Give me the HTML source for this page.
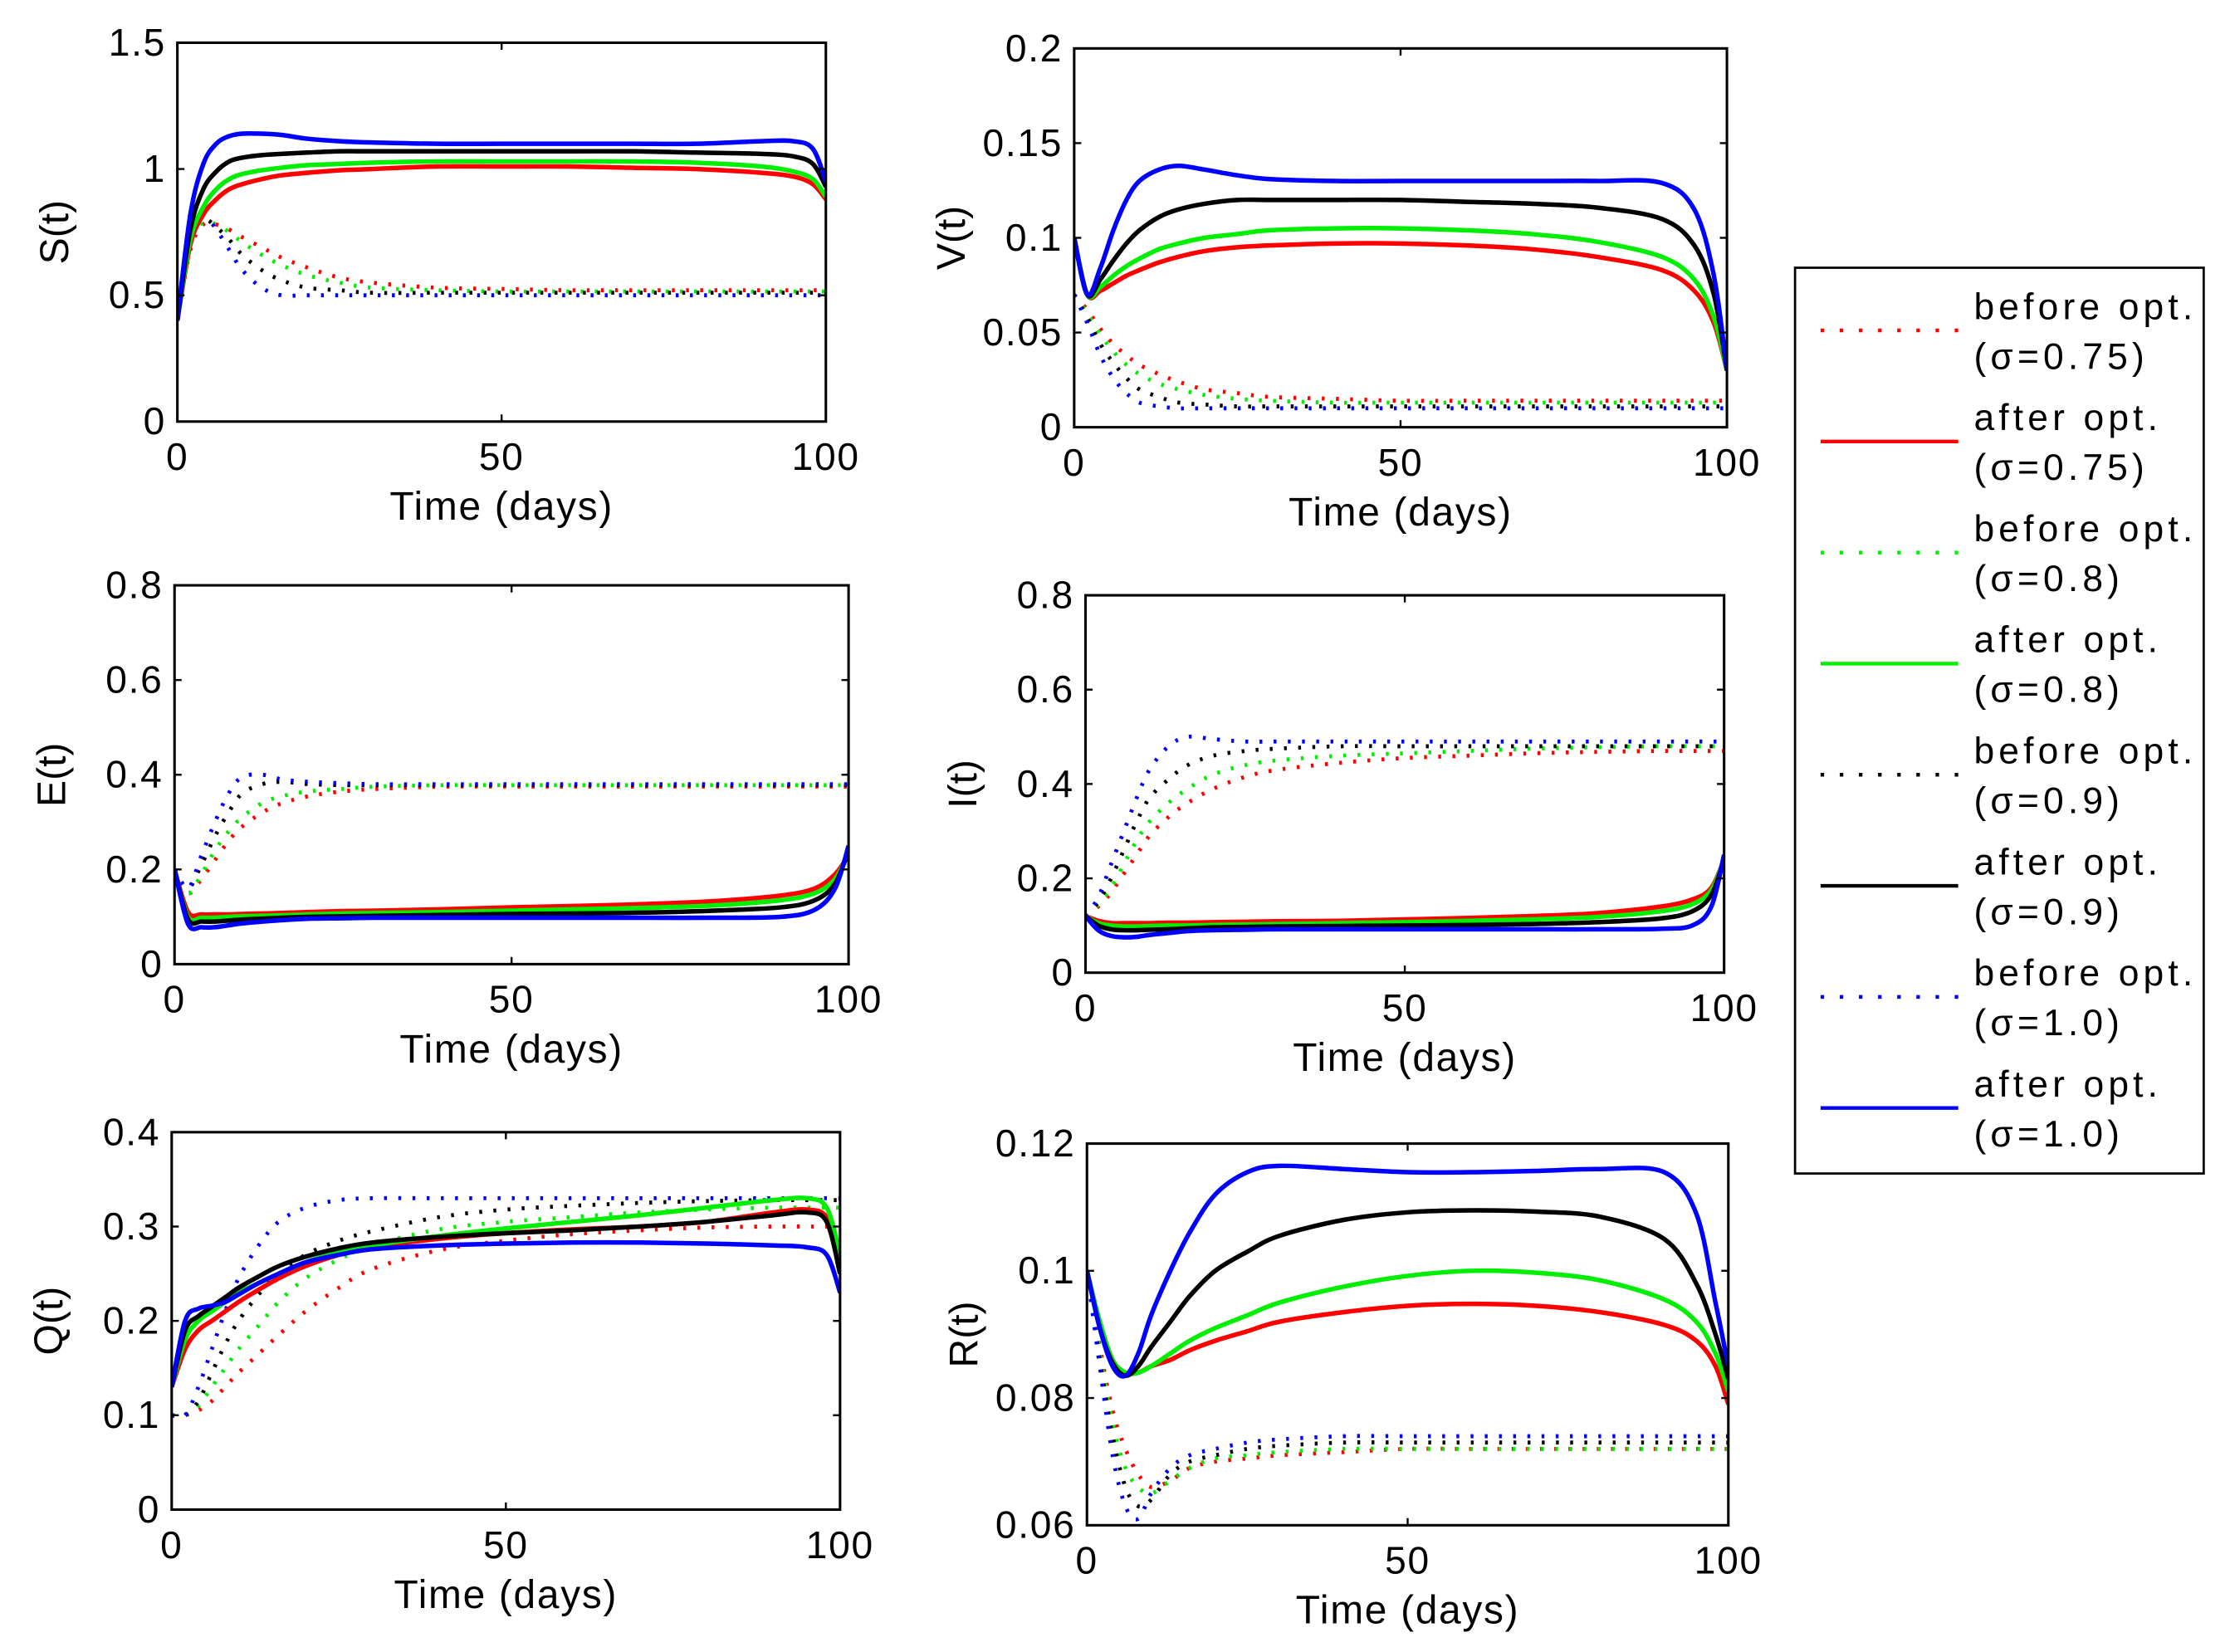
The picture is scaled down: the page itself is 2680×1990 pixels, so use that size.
<!DOCTYPE html>
<html><head><meta charset="utf-8"><style>
html,body{margin:0;padding:0;background:#fff}
svg{display:block}
text{font-family:"Liberation Sans","DejaVu Sans",sans-serif;fill:#000}
</style></head><body>
<svg id="fig" width="2680" height="1990" viewBox="0 0 1568 1160" preserveAspectRatio="none" xmlns="http://www.w3.org/2000/svg"></svg>
<script>
const tVals=[0,2,4,6,8,10,13,16,20,25,30,40,50,60,70,80,90,95,98,100];
const xTicks=[0,50,100];
// S(t)
const S_aR=[0.4,0.7,0.82,0.88,0.92,0.94,0.96,0.975,0.985,0.995,1.0,1.01,1.01,1.01,1.005,1.0,0.985,0.97,0.94,0.88];
const S_aG=[0.4,0.72,0.85,0.92,0.96,0.98,0.995,1.005,1.015,1.02,1.025,1.03,1.03,1.03,1.03,1.025,1.01,0.99,0.96,0.89];
const S_aK=[0.4,0.76,0.92,0.99,1.03,1.045,1.055,1.06,1.065,1.07,1.07,1.07,1.07,1.07,1.07,1.065,1.06,1.05,1.02,0.93];
const S_aB=[0.4,0.82,1.02,1.1,1.13,1.14,1.14,1.135,1.12,1.11,1.105,1.1,1.1,1.1,1.1,1.1,1.11,1.11,1.08,0.95];
const S_bR=[0.4,0.68,0.78,0.78,0.76,0.73,0.69,0.65,0.61,0.57,0.55,0.53,0.525,0.52,0.52,0.52,0.52,0.52,0.52,0.52];
const S_bG=[0.4,0.7,0.79,0.78,0.75,0.71,0.66,0.62,0.58,0.55,0.53,0.52,0.515,0.515,0.515,0.515,0.515,0.515,0.515,0.515];
const S_bK=[0.4,0.73,0.8,0.77,0.72,0.66,0.6,0.56,0.53,0.52,0.51,0.51,0.51,0.51,0.51,0.51,0.51,0.51,0.51,0.51];
const S_bB=[0.4,0.76,0.82,0.76,0.68,0.6,0.53,0.5,0.5,0.5,0.5,0.5,0.5,0.5,0.5,0.5,0.5,0.5,0.5,0.5];
const S_ticks=[0,0.5,1,1.5];
// V(t)
const V_aR=[0.1,0.07,0.072,0.076,0.08,0.083,0.087,0.09,0.093,0.095,0.096,0.097,0.097,0.096,0.094,0.09,0.083,0.072,0.055,0.03];
const V_aG=[0.1,0.07,0.074,0.08,0.085,0.089,0.094,0.097,0.1,0.102,0.104,0.105,0.105,0.104,0.102,0.098,0.09,0.078,0.058,0.03];
const V_aK=[0.1,0.07,0.078,0.088,0.097,0.104,0.111,0.115,0.118,0.12,0.12,0.12,0.12,0.119,0.118,0.116,0.11,0.096,0.07,0.03];
const V_aB=[0.1,0.07,0.084,0.104,0.12,0.13,0.136,0.138,0.136,0.133,0.131,0.13,0.13,0.13,0.13,0.13,0.129,0.115,0.08,0.03];
const V_bR=[0.07,0.062,0.052,0.044,0.038,0.033,0.028,0.024,0.02,0.018,0.016,0.015,0.014,0.014,0.014,0.014,0.014,0.014,0.014,0.014];
const V_bG=[0.07,0.06,0.049,0.04,0.033,0.028,0.023,0.02,0.017,0.015,0.014,0.013,0.013,0.013,0.013,0.013,0.013,0.013,0.013,0.013];
const V_bK=[0.07,0.058,0.044,0.034,0.026,0.02,0.016,0.013,0.012,0.011,0.011,0.011,0.011,0.011,0.011,0.011,0.011,0.011,0.011,0.011];
const V_bB=[0.07,0.055,0.038,0.026,0.018,0.013,0.011,0.01,0.01,0.01,0.01,0.01,0.01,0.01,0.01,0.01,0.01,0.01,0.01,0.01];
const V_ticks=[0,0.05,0.1,0.15,0.2];
// E(t)
const E_aR=[0.2,0.11,0.105,0.105,0.105,0.106,0.107,0.108,0.11,0.112,0.113,0.116,0.12,0.123,0.127,0.133,0.145,0.16,0.19,0.23];
const E_aG=[0.2,0.1,0.098,0.098,0.1,0.101,0.102,0.103,0.105,0.107,0.108,0.11,0.113,0.116,0.119,0.124,0.135,0.15,0.18,0.235];
const E_aK=[0.2,0.095,0.09,0.09,0.092,0.094,0.096,0.098,0.1,0.101,0.102,0.104,0.106,0.107,0.109,0.113,0.12,0.135,0.17,0.24];
const E_aB=[0.2,0.085,0.078,0.078,0.082,0.086,0.09,0.093,0.096,0.097,0.098,0.098,0.098,0.098,0.098,0.098,0.1,0.115,0.16,0.25];
const E_bR=[0.2,0.15,0.18,0.22,0.26,0.29,0.32,0.34,0.355,0.365,0.37,0.375,0.375,0.375,0.375,0.375,0.375,0.375,0.375,0.375];
const E_bG=[0.2,0.15,0.19,0.24,0.28,0.31,0.34,0.355,0.365,0.37,0.375,0.378,0.378,0.378,0.378,0.378,0.378,0.378,0.378,0.378];
const E_bK=[0.2,0.16,0.21,0.27,0.32,0.36,0.38,0.385,0.38,0.378,0.378,0.378,0.378,0.378,0.378,0.378,0.378,0.378,0.378,0.378];
const E_bB=[0.2,0.16,0.23,0.3,0.36,0.395,0.4,0.39,0.385,0.382,0.38,0.38,0.38,0.38,0.38,0.38,0.38,0.38,0.38,0.38];
const E_ticks=[0,0.2,0.4,0.6,0.8];
// I(t)
const I_aR=[0.12,0.11,0.105,0.105,0.105,0.105,0.106,0.106,0.107,0.108,0.109,0.11,0.113,0.116,0.12,0.126,0.14,0.155,0.18,0.24];
const I_aG=[0.12,0.105,0.1,0.098,0.098,0.099,0.1,0.1,0.101,0.102,0.103,0.105,0.107,0.11,0.113,0.118,0.13,0.145,0.175,0.24];
const I_aK=[0.12,0.1,0.092,0.09,0.09,0.091,0.092,0.094,0.096,0.097,0.098,0.099,0.1,0.101,0.103,0.107,0.115,0.13,0.165,0.24];
const I_aB=[0.12,0.09,0.078,0.075,0.076,0.08,0.084,0.088,0.09,0.091,0.092,0.092,0.092,0.092,0.092,0.092,0.093,0.1,0.14,0.25];
const I_bR=[0.12,0.14,0.17,0.21,0.25,0.29,0.33,0.36,0.39,0.415,0.43,0.445,0.455,0.46,0.465,0.468,0.47,0.47,0.47,0.47];
const I_bG=[0.12,0.145,0.18,0.23,0.28,0.32,0.36,0.39,0.42,0.44,0.45,0.46,0.465,0.47,0.475,0.478,0.48,0.48,0.48,0.48];
const I_bK=[0.12,0.15,0.2,0.26,0.32,0.37,0.41,0.44,0.46,0.47,0.475,0.48,0.48,0.48,0.48,0.48,0.48,0.48,0.48,0.48];
const I_bB=[0.12,0.16,0.23,0.3,0.37,0.43,0.48,0.5,0.495,0.49,0.49,0.49,0.49,0.49,0.49,0.49,0.49,0.49,0.49,0.49];
const I_ticks=[0,0.2,0.4,0.6,0.8];
// Q(t)
const Q_aR=[0.13,0.17,0.19,0.2,0.21,0.22,0.233,0.245,0.258,0.27,0.278,0.287,0.293,0.297,0.3,0.305,0.315,0.318,0.31,0.27];
const Q_aG=[0.13,0.18,0.2,0.21,0.22,0.23,0.24,0.25,0.262,0.273,0.28,0.29,0.298,0.305,0.312,0.32,0.328,0.33,0.32,0.27];
const Q_aK=[0.13,0.19,0.205,0.215,0.225,0.235,0.247,0.258,0.268,0.277,0.283,0.289,0.293,0.296,0.3,0.305,0.312,0.315,0.305,0.25];
const Q_aB=[0.13,0.2,0.213,0.216,0.22,0.228,0.24,0.25,0.262,0.27,0.276,0.28,0.282,0.283,0.283,0.282,0.28,0.278,0.27,0.23];
const Q_bR=[0.1,0.1,0.105,0.115,0.13,0.145,0.165,0.185,0.21,0.235,0.255,0.275,0.285,0.292,0.296,0.299,0.3,0.3,0.3,0.3];
const Q_bG=[0.1,0.1,0.11,0.13,0.15,0.17,0.195,0.22,0.245,0.265,0.28,0.297,0.305,0.31,0.315,0.318,0.32,0.32,0.32,0.32];
const Q_bK=[0.1,0.1,0.115,0.145,0.175,0.2,0.228,0.25,0.27,0.285,0.295,0.31,0.318,0.322,0.325,0.327,0.328,0.328,0.328,0.328];
const Q_bB=[0.1,0.1,0.13,0.17,0.21,0.245,0.28,0.305,0.32,0.328,0.33,0.33,0.33,0.33,0.33,0.33,0.33,0.33,0.33,0.33];
const Q_ticks=[0,0.1,0.2,0.3,0.4];
// R(t)
const R_aR=[0.1,0.092,0.086,0.084,0.084,0.085,0.086,0.0875,0.089,0.0905,0.092,0.0935,0.0945,0.0948,0.0945,0.0935,0.0915,0.089,0.085,0.079];
const R_aG=[0.1,0.092,0.086,0.084,0.084,0.085,0.087,0.089,0.091,0.093,0.095,0.0975,0.0992,0.1,0.0997,0.0985,0.0955,0.092,0.087,0.081];
const R_aK=[0.1,0.091,0.0855,0.0835,0.085,0.088,0.092,0.096,0.1,0.103,0.1055,0.108,0.1092,0.1095,0.1093,0.1085,0.105,0.098,0.09,0.083];
const R_aB=[0.1,0.091,0.085,0.0835,0.087,0.093,0.1,0.106,0.112,0.1155,0.1165,0.116,0.1155,0.1155,0.1157,0.116,0.1155,0.109,0.095,0.085];
const R_bR=[0.1,0.088,0.078,0.072,0.068,0.066,0.067,0.069,0.07,0.0705,0.071,0.0715,0.072,0.072,0.072,0.072,0.072,0.072,0.072,0.072];
const R_bG=[0.1,0.087,0.076,0.069,0.066,0.065,0.067,0.069,0.0705,0.071,0.0715,0.072,0.072,0.072,0.072,0.072,0.072,0.072,0.072,0.072];
const R_bK=[0.1,0.086,0.074,0.066,0.063,0.064,0.068,0.07,0.071,0.072,0.0725,0.073,0.073,0.073,0.073,0.073,0.073,0.073,0.073,0.073];
const R_bB=[0.1,0.085,0.071,0.063,0.061,0.065,0.069,0.071,0.072,0.073,0.0735,0.074,0.074,0.074,0.074,0.074,0.074,0.074,0.074,0.074];
const R_ticks=[0.06,0.08,0.1,0.12];
const legendLabels=[["before opt.","(σ=0.75)"],["after opt.","(σ=0.75)"],["before opt.","(σ=0.8)"],["after opt.","(σ=0.8)"],["before opt."," (σ=0.9)"],["after opt.","(σ=0.9)"],["before opt."," (σ=1.0)"],["after opt."," (σ=1.0)"]];

const NS="http://www.w3.org/2000/svg";
const svg=document.getElementById('fig');
function mk(tag,attrs,parent){const e=document.createElementNS(NS,tag);for(const k in attrs)e.setAttribute(k,attrs[k]);(parent||svg).appendChild(e);return e;}
const colors={R:"#ff0000",G:"#00ee00",K:"#000000",B:"#0000ff"};
const panels=[
 {key:"S",label:"S(t)",L:125,R:582,T:30,B:296,ymin:0,ymax:1.5,ticks:S_ticks,d:{aR:S_aR,aG:S_aG,aK:S_aK,aB:S_aB,bR:S_bR,bG:S_bG,bK:S_bK,bB:S_bB}},
 {key:"V",label:"V(t)",L:757,R:1217,T:34,B:300,ymin:0,ymax:0.2,ticks:V_ticks,d:{aR:V_aR,aG:V_aG,aK:V_aK,aB:V_aB,bR:V_bR,bG:V_bG,bK:V_bK,bB:V_bB}},
 {key:"E",label:"E(t)",L:123,R:598,T:411,B:677,ymin:0,ymax:0.8,ticks:E_ticks,d:{aR:E_aR,aG:E_aG,aK:E_aK,aB:E_aB,bR:E_bR,bG:E_bG,bK:E_bK,bB:E_bB}},
 {key:"I",label:"I(t)",L:765,R:1215,T:418,B:683,ymin:0,ymax:0.8,ticks:I_ticks,d:{aR:I_aR,aG:I_aG,aK:I_aK,aB:I_aB,bR:I_bR,bG:I_bG,bK:I_bK,bB:I_bB}},
 {key:"Q",label:"Q(t)",L:121,R:592,T:795,B:1060,ymin:0,ymax:0.4,ticks:Q_ticks,d:{aR:Q_aR,aG:Q_aG,aK:Q_aK,aB:Q_aB,bR:Q_bR,bG:Q_bG,bK:Q_bK,bB:Q_bB}},
 {key:"R",label:"R(t)",L:766,R:1218,T:803,B:1071,ymin:0.06,ymax:0.12,ticks:R_ticks,d:{aR:R_aR,aG:R_aG,aK:R_aK,aB:R_aB,bR:R_bR,bG:R_bG,bK:R_bK,bB:R_bB}}
];
function smoothPath(pts){
  let d="M"+pts[0][0].toFixed(2)+","+pts[0][1].toFixed(2);
  for(let i=0;i<pts.length-1;i++){
    const p0=pts[Math.max(0,i-1)],p1=pts[i],p2=pts[i+1],p3=pts[Math.min(pts.length-1,i+2)];
    const c1x=p1[0]+(p2[0]-p0[0])/6,c1y=p1[1]+(p2[1]-p0[1])/6;
    const c2x=p2[0]-(p3[0]-p1[0])/6,c2y=p2[1]-(p3[1]-p1[1])/6;
    d+=" C"+c1x.toFixed(2)+","+c1y.toFixed(2)+" "+c2x.toFixed(2)+","+c2y.toFixed(2)+" "+p2[0].toFixed(2)+","+p2[1].toFixed(2);
  }
  return d;
}
panels.forEach(p=>{
  const g=mk('g',{});
  
  
  const xs=t=>p.L+(t-0)/(100-0)*(p.R-p.L);
  const ys=v=>p.B-(v-p.ymin)/(p.ymax-p.ymin)*(p.B-p.T);
  const clip=mk('clipPath',{id:'clip'+p.key},g);
  mk('rect',{x:p.L,y:p.T,width:p.R-p.L,height:p.B-p.T},clip);
  ["b","a"].forEach(kind=>{
    ["R","G","K","B"].forEach(c=>{
      const arr=p.d[kind+c];
      const pts=tVals.map((t,i)=>[xs(t),ys(arr[i])]);
      const path=mk('path',{d:smoothPath(pts),fill:"none",stroke:colors[c],"stroke-width":kind==="a"?3.2:2.8,"clip-path":"url(#clip"+p.key+")","stroke-dasharray":kind==="b"?"2,8":"none","stroke-linecap":"butt"},g);
      
      
    });
  });
  const fr=mk('rect',{x:p.L,y:p.T,width:p.R-p.L,height:p.B-p.T,fill:"none",stroke:"#000","stroke-width":1.8},g);
  
  
  p.ticks.forEach(v=>{
    const y=ys(v);
    mk('line',{x1:p.L,x2:p.L+5,y1:y,y2:y,stroke:"#000","stroke-width":1.4},g);
    mk('line',{x1:p.R,x2:p.R-5,y1:y,y2:y,stroke:"#000","stroke-width":1.4},g);
    const tx=mk('text',{x:p.L-8,y:y+9,"text-anchor":"end","font-size":27,"letter-spacing":1},g);
    tx.textContent=String(v);
    
    
  });
  xTicks.forEach(v=>{
    const x=xs(v);
    mk('line',{x1:x,x2:x,y1:p.B,y2:p.B-5,stroke:"#000","stroke-width":1.4},g);
    mk('line',{x1:x,x2:x,y1:p.T,y2:p.T+5,stroke:"#000","stroke-width":1.4},g);
    const tx=mk('text',{x:x,y:p.B+34,"text-anchor":"middle","font-size":27,"letter-spacing":1},g);
    tx.textContent=String(v);
    
    
  });
  const xl=mk('text',{x:(p.L+p.R)/2,y:p.B+69,"text-anchor":"middle","font-size":28,"letter-spacing":1},g);
  xl.textContent="Time (days)";
  
  
  const yx=p.L-77,yy=(p.T+p.B)/2;
  const yl=mk('text',{x:yx,y:yy,"text-anchor":"middle","font-size":28,transform:"rotate(-90 "+yx+" "+yy+")"},g);
  yl.textContent=p.label;
  
  
});
const lg=mk('g',{});


const lb=mk('rect',{x:1265,y:188,width:288,height:636,fill:"#fff",stroke:"#000","stroke-width":1.6},lg);


const lc=["R","R","G","G","K","K","B","B"];
legendLabels.forEach((lab,i)=>{
  const y0=232+i*78;
  const e=mk('g',{},lg);
  
  
  mk('line',{x1:1283,x2:1380,y1:y0,y2:y0,stroke:colors[lc[i]],"stroke-width":2.6,"stroke-dasharray":i%2===0?"2.5,11":"none"},e);
  const t1=mk('text',{x:1391,y:y0-8,"font-size":26,"letter-spacing":3},e);
  t1.textContent=lab[0];
  const t2=mk('text',{x:1391,y:y0+27,"font-size":26,"letter-spacing":3},e);
  t2.textContent=lab[1];
});
</script>
</body></html>
